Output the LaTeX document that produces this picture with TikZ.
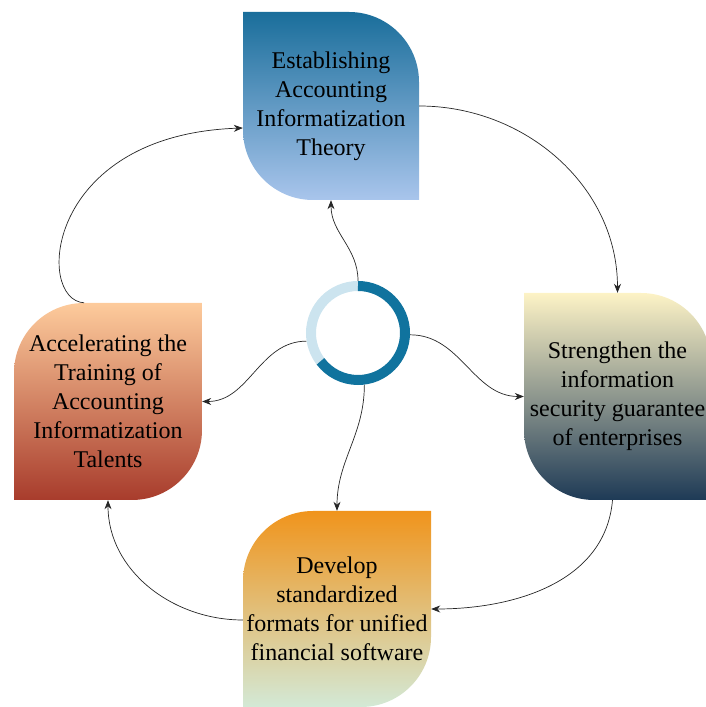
\documentclass[tikz,border=0pt]{standalone}
\usepackage{fontspec}
\setmainfont{Liberation Serif}
\usetikzlibrary{arrows.meta}
\definecolor{theorytop}{HTML}{1A6E9B}
\definecolor{theorybot}{HTML}{A9C5EC}
\definecolor{securetop}{HTML}{FDF3C6}
\definecolor{securebot}{HTML}{1E3A56}
\definecolor{talenttop}{HTML}{FDCB9C}
\definecolor{talentbot}{HTML}{A83C2C}
\definecolor{softtop}{HTML}{F0941C}
\definecolor{softbot}{HTML}{D3E9D6}
\definecolor{ringdark}{HTML}{10739E}
\definecolor{ringlight}{HTML}{CCE4EF}
\begin{document}
\begin{tikzpicture}[
				x=1pt, y=1pt,
				every node/.style={
						font=\fontsize{24}{29}\selectfont,
						align=center, inner sep=0pt,
					},
				leafright/.style 2 args={
						path picture={
								\shade[top color=#1, bottom color=#2]
								(path picture bounding box.north west)
								-- ([xshift=-70pt]path picture bounding box.north east)
								arc[start angle=90, end angle=0, radius=70pt]
								-- (path picture bounding box.south east)
								-- ([xshift=70pt]path picture bounding box.south west)
								arc[start angle=270, end angle=180, radius=70pt] -- cycle;
							},
					},
				leafleft/.style 2 args={
						path picture={
								\shade[top color=#1, bottom color=#2]
								(path picture bounding box.north east)
								-- ([yshift=70pt]path picture bounding box.south east)
								arc[start angle=0, end angle=-90, radius=70pt]
								-- (path picture bounding box.south west)
								-- ([yshift=-70pt]path picture bounding box.north west)
								arc[start angle=180, end angle=90, radius=70pt] -- cycle;
							},
					},
				link/.style={-{Stealth[length=9pt, width=7pt]}, line width=0.7pt, black!85},
			]
			\useasboundingbox (0,0) rectangle (705,707);
			% the four boxes
			\node[leafright={theorytop}{theorybot}, minimum width=176pt, minimum height=188pt] (theory) at (331,601)
			{Establishing\\Accounting\\Informatization\\Theory};
			\node[leafright={securetop}{securebot}, minimum width=187pt, minimum height=207pt] (security) at (617.5,310.5)
			{Strengthen the\\information\\security guarantee\\of enterprises};
			\node[leafleft={talenttop}{talentbot}, minimum width=188pt, minimum height=197pt] (talents) at (108,305.5)
			{Accelerating the\\Training of\\Accounting\\Informatization\\Talents};
			\node[leafleft={softtop}{softbot}, minimum width=188pt, minimum height=196pt] (software) at (337,98)
			{Develop\\standardized\\formats for unified\\financial software};
			% ring in the middle
			\node[circle, minimum size=104pt] (hub) at (358,374) {};
			\draw[ringlight, line width=10pt] ([shift={(90:47pt)}]hub.center) arc[start angle=90, end angle=217, radius=47pt];
			\draw[ringdark, line width=10pt] ([shift={(90:47pt)}]hub.center) arc[start angle=90, end angle=-143, radius=47pt];
			% spokes
			\draw[link] (hub.north) to[out=90, in=-90] (theory.south);
			\draw[link] (hub.-2) to[out=0, in=180] (security.west);
			\draw[link] (hub.189) to[out=180, in=0] (talents.east);
			\draw[link] (hub.-83) to[out=-90, in=90] (software.north);
			% cycle
			\draw[link] (theory.east) to[out=0, in=90] (security.north);
			\draw[link] ([xshift=-5pt]security.south) to[out=-95, in=0] (software.east);
			\draw[link] ([yshift=-11pt]software.west) to[out=180, in=-90] (talents.south);
			\draw[link] ([xshift=-24pt]talents.north) .. controls +(-49,3) and +(-198,-7) .. ([yshift=-22pt]theory.west);
		\end{tikzpicture}
\end{document}
